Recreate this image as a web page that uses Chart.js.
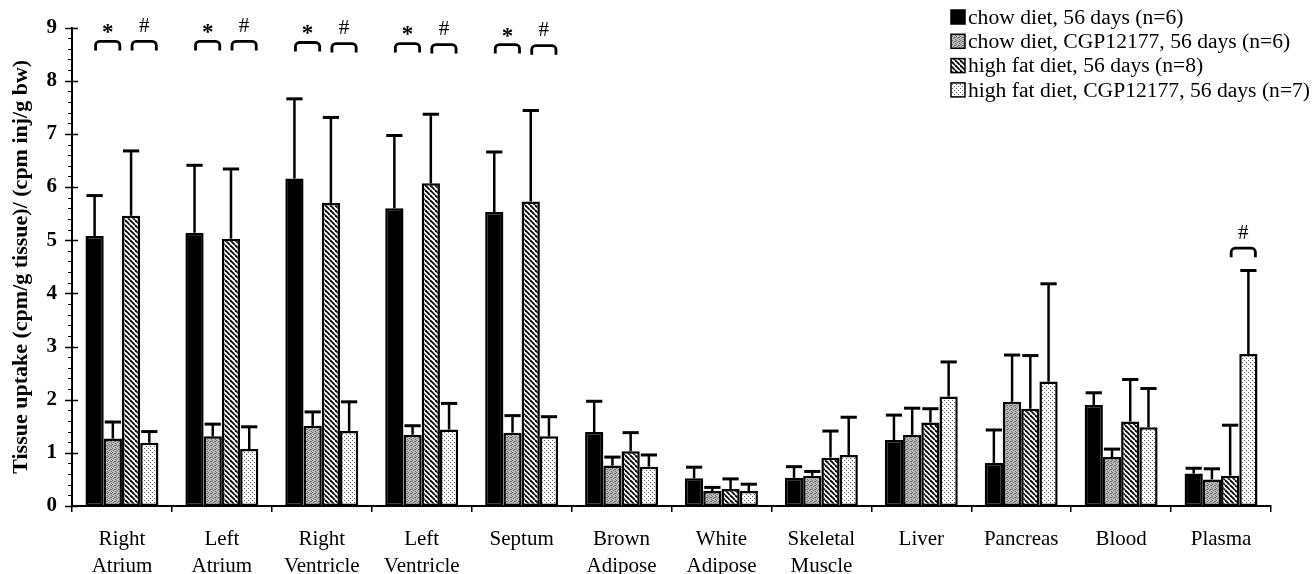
<!DOCTYPE html>
<html>
<head>
<meta charset="utf-8">
<script src="https://cdn.jsdelivr.net/npm/chart.js@4.4.1/dist/chart.umd.min.js"></script>
<style>
  html, body { margin: 0; padding: 0; background: #fff; }
  #wrap { width: 1312px; height: 574px; }
</style>
</head>
<body>
<div id="wrap"><canvas id="c" width="1312" height="574"></canvas></div>
<script>
// Tissues along the x axis
const categories = [
  ["Right", "Atrium"], ["Left", "Atrium"], ["Right", "Ventricle"], ["Left", "Ventricle"],
  ["Septum"], ["Brown", "Adipose"], ["White", "Adipose"], ["Skeletal", "Muscle"],
  ["Liver"], ["Pancreas"], ["Blood"], ["Plasma"]
];

const seriesNames = [
  "chow diet, 56 days (n=6)",
  "chow diet, CGP12177, 56 days (n=6)",
  "high fat diet, 56 days (n=8)",
  "high fat diet, CGP12177, 56 days (n=7)"
];

// Mean tissue uptake per group
const chowMean    = [5.08, 5.14, 6.16, 5.60, 5.53, 1.39, 0.52, 0.53, 1.24, 0.81, 1.90, 0.61];
const chowCgpMean = [1.27, 1.31, 1.51, 1.34, 1.38, 0.76, 0.28, 0.57, 1.34, 1.96, 0.92, 0.50];
const hfdMean     = [5.46, 5.03, 5.70, 6.07, 5.73, 1.03, 0.32, 0.91, 1.57, 1.83, 1.59, 0.57];
const hfdCgpMean  = [1.19, 1.07, 1.41, 1.44, 1.31, 0.74, 0.28, 0.96, 2.06, 2.34, 1.48, 2.86];

// Upward error (SD) per group
const chowErr    = [0.76, 1.27, 1.50, 1.37, 1.13, 0.58, 0.21, 0.21, 0.47, 0.62, 0.23, 0.10];
const chowCgpErr = [0.31, 0.23, 0.26, 0.17, 0.32, 0.16, 0.07, 0.08, 0.50, 0.88, 0.15, 0.20];
const hfdErr     = [1.22, 1.31, 1.61, 1.30, 1.71, 0.35, 0.19, 0.50, 0.26, 1.00, 0.79, 0.95];
const hfdCgpErr  = [0.21, 0.42, 0.55, 0.49, 0.37, 0.22, 0.13, 0.71, 0.65, 1.84, 0.73, 1.57];

// Significance brackets: level on the y scale (null = none)
const starLevel = [8.74, 8.74, 8.72, 8.70, 8.68, null, null, null, null, null, null, null];
const hashLevel = [8.74, 8.74, 8.70, 8.68, 8.66, null, null, null, null, null, null, 4.85];

const yTicks = [0, 1, 2, 3, 4, 5, 6, 7, 8, 9];

const SERIF = "'Liberation Serif', 'Times New Roman', serif";

function makePattern(size, paint) {
  const c = document.createElement('canvas');
  c.width = size; c.height = size;
  const g = c.getContext('2d');
  paint(g, size);
  return g.createPattern(c, 'repeat');
}

const mainCtx = document.getElementById('c').getContext('2d');

const solidBlack = '#000000';
const greyStipple = makePattern(4, (g, s) => {
  g.fillStyle = '#bdbdbd'; g.fillRect(0, 0, s, s);
  g.fillStyle = '#666666';
  [[0,0],[2,1],[1,2],[3,3],[3,1]].forEach(([x,y]) => g.fillRect(x, y, 1, 1));
});
const diagHatch = makePattern(5, (g, s) => {
  g.fillStyle = '#ffffff'; g.fillRect(0, 0, s, s);
  g.strokeStyle = '#000000'; g.lineWidth = 1.8;
  [-s, 0, s].forEach(x0 => {
    g.beginPath(); g.moveTo(x0, 0); g.lineTo(x0 + s, s); g.stroke();
  });
});
const lightDots = makePattern(4, (g, s) => {
  g.fillStyle = '#ffffff'; g.fillRect(0, 0, s, s);
  g.fillStyle = '#5a5a5a';
  g.fillRect(0, 0, 1, 1); g.fillRect(2, 2, 1, 1);
});

const fills = [solidBlack, greyStipple, diagHatch, lightDots];
const means = [chowMean, chowCgpMean, hfdMean, hfdCgpMean];
const errs = [chowErr, chowCgpErr, hfdErr, hfdCgpErr];

// Upward error bars with a cap as wide as the bar
const errorBars = {
  id: 'errorBars',
  afterDatasetsDraw(chart) {
    const ctx = chart.ctx, y = chart.scales.y;
    ctx.save();
    ctx.strokeStyle = '#000';
    chart.data.datasets.forEach((ds, i) => {
      const meta = chart.getDatasetMeta(i);
      meta.data.forEach((bar, j) => {
        const top = y.getPixelForValue(ds.data[j] + errs[i][j]);
        const half = bar.width / 2;
        ctx.lineWidth = 2.5;
        ctx.beginPath(); ctx.moveTo(bar.x, bar.y); ctx.lineTo(bar.x, top); ctx.stroke();
        ctx.lineWidth = 3;
        ctx.beginPath(); ctx.moveTo(bar.x - half + 1, top); ctx.lineTo(bar.x + half - 1, top); ctx.stroke();
      });
    });
    ctx.restore();
  }
};

// Brackets with * (chow vs chow + CGP12177) and # (high fat vs high fat + CGP12177)
const brackets = {
  id: 'brackets',
  afterDatasetsDraw(chart) {
    const ctx = chart.ctx, y = chart.scales.y;
    const draw = (a, b, level, sym) => {
      const left = a.x + 1, right = b.x + 7;
      const top = y.getPixelForValue(level);
      const leg = 9, r = 4;
      ctx.lineWidth = 2.8;
      ctx.beginPath();
      ctx.moveTo(left, top + leg);
      ctx.arcTo(left, top, left + r, top, r);
      ctx.arcTo(right, top, right, top + r, r);
      ctx.lineTo(right, top + leg);
      ctx.stroke();
      const cx = (left + right) / 2;
      ctx.textAlign = 'center';
      ctx.textBaseline = 'middle';
      if (sym === '*') {
        ctx.font = 'bold 23px ' + SERIF;
        ctx.fillText('*', cx, top - 8);
      } else {
        ctx.font = '21px ' + SERIF;
        ctx.fillText('#', cx, top - 15);
      }
    };
    ctx.save();
    ctx.strokeStyle = '#000'; ctx.fillStyle = '#000';
    const m0 = chart.getDatasetMeta(0).data, m1 = chart.getDatasetMeta(1).data;
    const m2 = chart.getDatasetMeta(2).data, m3 = chart.getDatasetMeta(3).data;
    categories.forEach((_, j) => {
      if (starLevel[j] != null) draw(m0[j], m1[j], starLevel[j], '*');
      if (hashLevel[j] != null) draw(m2[j], m3[j], hashLevel[j], '#');
    });
    ctx.restore();
  }
};

// Y axis ticks crossing the axis line, plus minor ticks every 0.2
const yAxisTicks = {
  id: 'yAxisTicks',
  afterDraw(chart) {
    const ctx = chart.ctx, y = chart.scales.y, x0 = chart.chartArea.left;
    ctx.save();
    ctx.strokeStyle = '#000';
    for (let k = 0; k <= 45; k++) {
      const v = k / 5;
      const py = Math.round(y.getPixelForValue(v)) + 0.5;
      ctx.beginPath();
      if (k % 5 === 0) {
        ctx.lineWidth = 1.5;
        ctx.moveTo(x0 - 7, py); ctx.lineTo(x0 + 6, py);
      } else {
        ctx.lineWidth = 1;
        ctx.moveTo(x0 - 4, py); ctx.lineTo(x0 + 1, py);
      }
      ctx.stroke();
    }
    ctx.restore();
  }
};

// Legend drawn inside the plot at the top right
const cornerLegend = {
  id: 'cornerLegend',
  afterDraw(chart) {
    const ctx = chart.ctx;
    const bx = 951, tx = 968, y0 = 17, step = 24.3, box = 14;
    ctx.save();
    ctx.font = '21.6px ' + SERIF;
    ctx.textAlign = 'left';
    ctx.textBaseline = 'middle';
    chart.data.datasets.forEach((ds, i) => {
      const cy = y0 + i * step;
      ctx.fillStyle = ds.backgroundColor;
      ctx.fillRect(bx, cy - box / 2, box, box);
      ctx.strokeStyle = '#000'; ctx.lineWidth = 1.5;
      ctx.strokeRect(bx, cy - box / 2, box, box);
      ctx.fillStyle = '#000';
      ctx.fillText(ds.label, tx, cy + 1);
    });
    ctx.restore();
  }
};

new Chart(mainCtx, {
  type: 'bar',
  data: {
    labels: categories,
    datasets: means.map((m, i) => ({
      label: seriesNames[i],
      data: m,
      backgroundColor: fills[i],
      borderColor: '#000',
      borderWidth: 2.5,
      borderSkipped: false,
      categoryPercentage: 0.73,
      barPercentage: 1.0
    }))
  },
  options: {
    responsive: false,
    animation: false,
    devicePixelRatio: 1,
    layout: { padding: { left: 0, right: 41, top: 24, bottom: 0 } },
    plugins: { legend: { display: false }, tooltip: { enabled: false } },
    scales: {
      x: {
        offset: true,
        grid: { display: true, drawOnChartArea: false, drawTicks: true, tickLength: 6,
                color: '#000', lineWidth: 1.5, offset: true },
        border: { display: true, color: '#000', width: 2 },
        ticks: { color: '#000', font: { family: SERIF, size: 21, lineHeight: 1.3 }, padding: 14,
                 maxRotation: 0, autoSkip: false },
        afterFit(scale) { scale.height = 68; }
      },
      y: {
        min: 0, max: 9,
        afterBuildTicks(scale) { scale.ticks = yTicks.map(v => ({ value: v })); },
        grid: { display: false, drawTicks: false },
        border: { display: true, color: '#000', width: 2 },
        ticks: { color: '#000', font: { family: SERIF, size: 21, weight: 'bold' }, padding: 15 },
        title: { display: true, text: 'Tissue uptake (cpm/g tissue)/ (cpm inj/g bw)',
                 color: '#000', font: { family: SERIF, size: 22, weight: 'bold' },
                 padding: { top: 8, bottom: 0 } },
        afterFit(scale) { scale.width = 72; }
      }
    }
  },
  plugins: [errorBars, brackets, yAxisTicks, cornerLegend]
});
</script>
</body>
</html>
